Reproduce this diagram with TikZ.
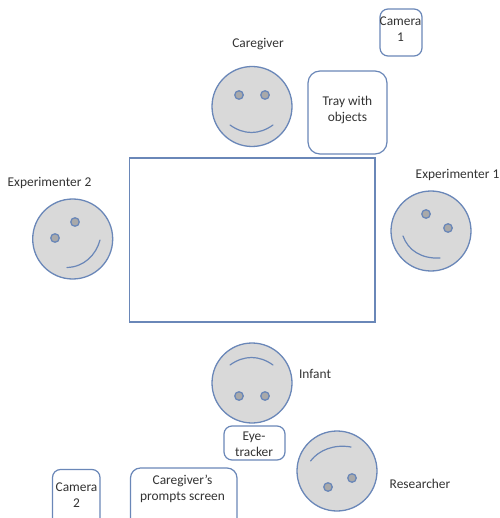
\documentclass[tikz,border=0pt]{standalone}
\usepackage{fontspec}
\setmainfont{Carlito}
\definecolor{edge}{HTML}{6A87B8}
\definecolor{facefill}{HTML}{D9D9D9}
\definecolor{eyefill}{HTML}{A9A9A9}
\definecolor{txt}{HTML}{333333}
\tikzset{
  x=1pt,y=-1pt,
  face/.style={circle,draw=edge,fill=facefill,line width=1.3pt,minimum size=80pt,inner sep=0pt},
  eye/.style={circle,draw=edge,fill=eyefill,line width=1.3pt,minimum size=8.5pt,inner sep=0pt},
  mouth/.style={draw=edge,line width=1.2pt,line cap=round},
  box/.style={draw=edge,line width=1.2pt,rounded corners=8pt,fill=white},
  lab/.style={text=txt,font=\fontsize{13.4}{16.5}\selectfont,align=center,inner sep=0pt},
}
\begin{document}
\begin{tikzpicture}
\useasboundingbox (0,0) rectangle (499,518);
\begin{scope}
\clip (0,0) rectangle (499,518);
\draw[draw=edge,line width=1.1pt] (129.5,158) rectangle (375,322);
% faces
\node[face] (caregiver) at (252,106.5) {};
\node[eye] (ce1) at (239,95) {};
\node[eye] (ce2) at (265,95) {};
\draw[mouth] (230,125) .. controls (244,135) and (259,135) .. (273,125);
\node[face] (exptwo) at (72.7,239) {};
\node[eye] (xe1) at (55,238) {};
\node[eye] (xe2) at (75,222) {};
\draw[mouth] (100,240) .. controls (96,255) and (84,267) .. (67,267.5);
\node[face] (expone) at (431,231) {};
\node[eye] (oe1) at (426,214) {};
\node[eye] (oe2) at (448,228) {};
\draw[mouth] (403,236) .. controls (408,250) and (421,259) .. (440,258);
\node[face] (infant) at (252,383) {};
\node[eye] (ie1) at (239,396) {};
\node[eye] (ie2) at (265,396) {};
\draw[mouth] (230,365) .. controls (244,355) and (259,355) .. (273,365);
\node[face] (researcher) at (337,471) {};
\node[eye] (re1) at (328,487) {};
\node[eye] (re2) at (352,478) {};
\draw[mouth] (310.5,461) .. controls (319,450) and (334,444) .. (351,447);
% boxes
\draw[box,rounded corners=12pt] (308,71) rectangle (387,154);
\node[lab] (tray) at (347.5,110) {Tray with\\objects};
\draw[box] (380,9) rectangle (422,56);
\node[lab] (cam1) at (400.5,29) {Camera\\1};
\draw[box] (224,426) rectangle (285,460);
\node[lab] (eyetr) at (254,444) {Eye-\\tracker};
\draw[box,rounded corners=10pt] (130.5,468) rectangle (237,540);
\node[lab] (screen) at (182.5,489) {Caregiver’s\\prompts screen};
\draw[box] (52.5,469.5) rectangle (100,540);
\node[lab] (cam2) at (76.5,495) {Camera\\2};
\end{scope}
% labels
\node[lab] (lcare) at (258,44.5) {Caregiver};
\node[lab] (lexp2) at (49.5,183) {Experimenter 2};
\node[lab] (lexp1) at (457.5,175) {Experimenter 1};
\node[lab] (linf) at (315,373.5) {Infant};
\node[lab] (lres) at (420,484) {Researcher};
\end{tikzpicture}
\end{document}
